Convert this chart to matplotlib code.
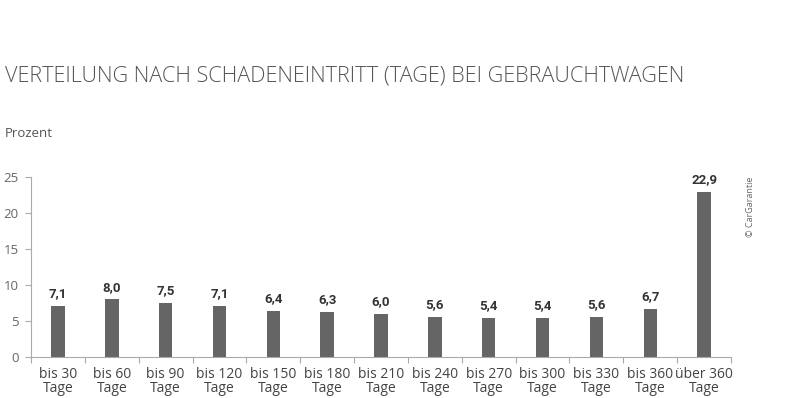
import matplotlib.pyplot as plt
import numpy as np

categories = ["bis 30\nTage", "bis 60\nTage", "bis 90\nTage", "bis 120\nTage", "bis 150\nTage",
              "bis 180\nTage", "bis 210\nTage", "bis 240\nTage", "bis 270\nTage", "bis 300\nTage",
              "bis 330\nTage", "bis 360\nTage", "über 360\nTage"]
values = [7.1, 8.0, 7.5, 7.1, 6.4, 6.3, 6.0, 5.6, 5.4, 5.4, 5.6, 6.7, 22.9]
yticks = [0, 5, 10, 15, 20, 25]

plt.rcParams['font.family'] = ['Open Sans', 'DejaVu Sans']

fig = plt.figure(figsize=(8, 3.98), dpi=100)
ax = fig.add_axes([0.03875, 0.103, 0.875, 0.452])

x = np.arange(len(values))
ax.bar(x, values, width=0.25, color='#656565')

for xi, v in zip(x, values):
    ax.text(xi, v + 0.8, f"{v:.1f}".replace('.', ','), ha='center', va='bottom',
            fontsize=9.5, fontweight='bold', color='#333333', family=['Liberation Sans Narrow', 'Roboto', 'DejaVu Sans'])

ax.set_xlim(-0.5, len(values) - 0.5)
ax.set_ylim(0, 25)
ax.set_yticks(yticks)
ax.set_yticklabels([str(t) for t in yticks])
ax.set_xticks(x)
ax.set_xticklabels(categories, linespacing=0.95)
ax.set_xticks(np.arange(-0.5, len(values)), minor=True)

ax.tick_params(axis='x', which='major', length=0, pad=7, labelsize=10, labelcolor='#444444')
ax.tick_params(axis='x', which='minor', length=4, color='#aaaaaa', width=0.8)
ax.tick_params(axis='y', length=4, color='#aaaaaa', width=0.8, pad=5, labelsize=9.5, labelcolor='#666666')

for s in ['top', 'right']:
    ax.spines[s].set_visible(False)
for s in ['left', 'bottom']:
    ax.spines[s].set_color('#aaaaaa')
    ax.spines[s].set_linewidth(0.8)

fig.text(0.006, 0.81, "VERTEILUNG NACH SCHADENEINTRITT (TAGE) BEI GEBRAUCHTWAGEN",
         fontsize=15.6, color='#555555', fontweight='light', va='center', ha='left')
fig.text(0.006, 0.665, "Prozent", fontsize=9.5, color='#555555', va='center', ha='left')
fig.text(0.938, 0.48, "© CarGarantie", fontsize=6.5, color='#666666', rotation=90, va='center', ha='center')

fig.savefig('out.png', dpi=100)
